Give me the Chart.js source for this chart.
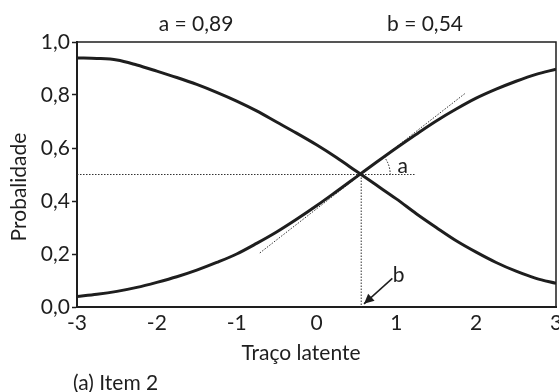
<!DOCTYPE html>
<html>
<head>
<meta charset="utf-8">
<script src="https://cdn.jsdelivr.net/npm/chart.js@4/dist/chart.umd.min.js"></script>
<style>
  html, body { margin: 0; padding: 0; background: #fff; }
  #wrap { width: 559px; height: 392px; position: relative; }
</style>
</head>
<body>
<div id="wrap"><canvas id="c" width="559" height="392"></canvas></div>
<script>
// ---- data ----
const theta   = [-3, -2.75, -2.5, -2.25, -2, -1.75, -1.5, -1.25, -1, -0.75, -0.5, -0.25, 0,
                 0.25, 0.5, 0.75, 1, 1.25, 1.5, 1.75, 2, 2.25, 2.5, 2.75, 3];
const rising  = [0.040, 0.048, 0.059, 0.074, 0.093, 0.114, 0.139, 0.168, 0.200, 0.240, 0.283, 0.331, 0.382,
                 0.436, 0.491, 0.546, 0.600, 0.652, 0.702, 0.747, 0.788, 0.822, 0.852, 0.878, 0.897];
const falling = [0.940, 0.938, 0.932, 0.913, 0.890, 0.866, 0.840, 0.810, 0.777, 0.740, 0.698, 0.656, 0.612,
                 0.564, 0.512, 0.460, 0.408, 0.352, 0.300, 0.250, 0.207, 0.168, 0.135, 0.108, 0.089];
const tangentX = [-0.71, 1.87];
const tangentY = [0.204, 0.808];
const paramB = 0.56;      // crossing point on the axis
const paramY = 0.5;
const hLineEnd = 1.24;
const xTicks = [-3, -2, -1, 0, 1, 2, 3];
const yTicks = [0, 0.2, 0.4, 0.6, 0.8, 1.0];
const topLabels = ["a = 0,89", "b = 0,54"];
const xTitle = "Traço latente";
const yTitle = "Probalidade";
const caption = "(a) Item 2";

const FONT = "Lato, 'Open Sans', sans-serif";
const INK = "#1e1e1e";
const FS = 21;

const pts = (xs, ys) => xs.map((x, i) => ({x, y: ys[i]}));

const overlay = {
  id: 'overlay',
  afterDraw(chart) {
    const {ctx, chartArea: a, scales: {x, y}} = chart;
    ctx.save();
    // frame top & right
    ctx.strokeStyle = INK; ctx.lineWidth = 1.5;
    ctx.beginPath();
    ctx.moveTo(a.left, a.top); ctx.lineTo(a.right, a.top); ctx.lineTo(a.right, a.bottom);
    ctx.stroke();

    ctx.fillStyle = INK;
    ctx.font = FS + "px " + FONT;
    ctx.textAlign = 'center'; ctx.textBaseline = 'middle';
    ctx.fillText(topLabels[0], 196, 24);
    ctx.fillText(topLabels[1], 425, 24);
    ctx.fillText(xTitle, 301, 353);
    ctx.textAlign = 'left';
    ctx.fillText(caption, 73, 383);
    ctx.save();
    ctx.translate(19, 187); ctx.rotate(-Math.PI / 2);
    ctx.textAlign = 'center';
    ctx.fillText(yTitle, 0, 0);
    ctx.restore();

    // angle arc "a"
    const cx = x.getPixelForValue(paramB), cy = y.getPixelForValue(paramY);
    const tx = x.getPixelForValue(tangentX[1]) - cx, ty = y.getPixelForValue(tangentY[1]) - cy;
    const ang = Math.atan2(ty, tx);
    ctx.setLineDash([1.5, 1.5]); ctx.lineWidth = 1;
    ctx.beginPath(); ctx.arc(cx, cy, 29, ang, 0); ctx.stroke();
    ctx.setLineDash([]);
    ctx.textAlign = 'center';
    ctx.fillText('a', x.getPixelForValue(1.08), y.getPixelForValue(0.53));

    // "b" + arrow
    ctx.fillText('b', x.getPixelForValue(1.03), y.getPixelForValue(0.12));
    const x0 = x.getPixelForValue(0.95), y0 = y.getPixelForValue(0.108);
    const x1 = x.getPixelForValue(0.595), y1 = y.getPixelForValue(0.012);
    ctx.lineWidth = 1.5;
    ctx.beginPath(); ctx.moveTo(x0, y0); ctx.lineTo(x1, y1); ctx.stroke();
    const ah = Math.atan2(y1 - y0, x1 - x0);
    ctx.beginPath();
    ctx.moveTo(x1, y1);
    ctx.lineTo(x1 - 11 * Math.cos(ah - 0.45), y1 - 11 * Math.sin(ah - 0.45));
    ctx.lineTo(x1 - 11 * Math.cos(ah + 0.45), y1 - 11 * Math.sin(ah + 0.45));
    ctx.closePath(); ctx.fill();
    ctx.restore();
  }
};

new Chart(document.getElementById('c'), {
  type: 'line',
  data: {
    datasets: [
      { data: pts(theta, rising), borderColor: INK, borderWidth: 3, pointRadius: 0, cubicInterpolationMode: 'monotone', fill: false },
      { data: pts(theta, falling), borderColor: INK, borderWidth: 3, pointRadius: 0, cubicInterpolationMode: 'monotone', fill: false },
      { data: pts(tangentX, tangentY), borderColor: '#333', borderWidth: 1, borderDash: [1.5, 1.5], pointRadius: 0 },
      { data: pts([xTicks[0], hLineEnd], [paramY, paramY]), borderColor: '#333', borderWidth: 1, borderDash: [1.5, 1.5], pointRadius: 0 },
      { data: pts([paramB, paramB], [paramY, 0]), borderColor: '#333', borderWidth: 1, borderDash: [1.5, 1.5], pointRadius: 0 }
    ]
  },
  options: {
    responsive: false,
    animation: false,
    events: [],
    layout: { padding: { top: 42, right: 3, left: 0, bottom: 0 } },
    plugins: { legend: { display: false }, tooltip: { enabled: false }, title: { display: false } },
    scales: {
      x: {
        type: 'linear', min: -3, max: 3,
        afterBuildTicks: s => { s.ticks = xTicks.map(v => ({value: v})); },
        afterFit: s => { s.height = 85; s.paddingLeft = 0; s.paddingRight = 0; },
        grid: { drawOnChartArea: false, drawTicks: false },
        border: { color: INK, width: 2 },
        ticks: { color: INK, font: { family: FONT, size: FS }, padding: 4, maxRotation: 0,
                 callback: v => String(v) }
      },
      y: {
        min: 0, max: 1,
        afterBuildTicks: s => { s.ticks = yTicks.map(v => ({value: v})); },
        afterFit: s => { s.width = 77; s.paddingTop = 0; s.paddingBottom = 0; },
        grid: { drawOnChartArea: false, drawTicks: true, tickLength: 5, color: INK, tickWidth: 1.5 },
        border: { color: INK, width: 2 },
        ticks: { color: INK, font: { family: FONT, size: FS }, padding: 2,
                 callback: v => v.toFixed(1).replace('.', ',') }
      }
    }
  },
  plugins: [overlay]
});
</script>
</body>
</html>
